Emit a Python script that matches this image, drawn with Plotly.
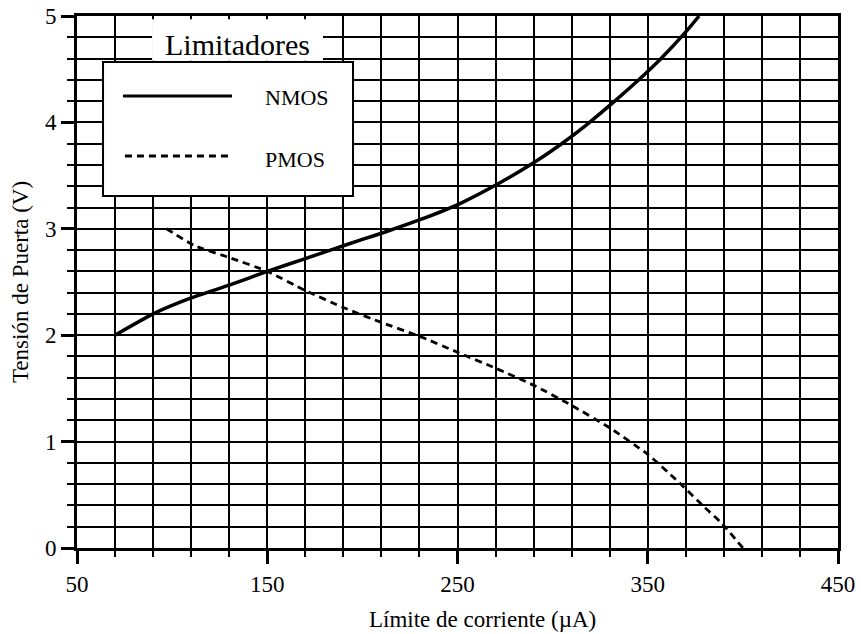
import plotly.graph_objects as go

# ---- data ----
nmos_x = [70, 90, 110, 130, 150, 170, 184, 200, 212, 231, 251, 273, 290, 304, 318, 332, 348, 357, 370, 377]
nmos_y = [2.0, 2.2, 2.35, 2.47, 2.6, 2.72, 2.805, 2.9, 2.97, 3.09, 3.235, 3.44, 3.62, 3.79, 3.98, 4.19, 4.445, 4.60, 4.85, 5.0]

pmos_x = [97, 112, 130, 150, 170, 190, 210, 230, 250, 270, 290, 310, 330, 350, 365, 380, 389, 400]
pmos_y = [3.0, 2.84, 2.73, 2.6, 2.42, 2.26, 2.12, 1.99, 1.84, 1.69, 1.53, 1.34, 1.13, 0.88, 0.64, 0.38, 0.23, 0.0]

x_ticks = [50, 150, 250, 350, 450]
y_ticks = [0, 1, 2, 3, 4, 5]

x_title = "Límite de corriente (µA)"
y_title = "Tensión de Puerta (V)"
legend_title = "Limitadores"
names = ["NMOS", "PMOS"]

FONT = "Liberation Serif, Times New Roman, serif"

fig = go.Figure()
fig.add_trace(go.Scatter(x=nmos_x, y=nmos_y, mode="lines", name=names[0],
                         line=dict(color="black", width=3.5, shape="spline", smoothing=0.5)))
fig.add_trace(go.Scatter(x=pmos_x, y=pmos_y, mode="lines", name=names[1],
                         line=dict(color="black", width=2.8, dash="7px,5px", shape="spline", smoothing=0.5)))

axis_common = dict(
    showline=True, linecolor="black", linewidth=3, mirror=True,
    showgrid=True, gridcolor="black", gridwidth=1.6,
    ticks="outside", ticklen=13, tickwidth=2.5, tickcolor="black",
    zeroline=False, automargin=False,
    tickfont=dict(family=FONT, size=23, color="black"),
)

fig.update_xaxes(range=[50, 450], tickvals=x_ticks, ticktext=[str(v) for v in x_ticks],
                 minor=dict(tick0=50, dtick=20, showgrid=True, gridcolor="black", gridwidth=1.6,
                            ticks="outside", ticklen=6, tickwidth=1.5, tickcolor="black"),
                 **axis_common)
fig.update_yaxes(range=[0, 5], tickvals=y_ticks, ticktext=[str(v) for v in y_ticks],
                 minor=dict(tick0=0, dtick=0.2, showgrid=True, gridcolor="black", gridwidth=1.6,
                            ticks="outside", ticklen=7, tickwidth=1.5, tickcolor="black"),
                 title=dict(text=y_title, font=dict(family=FONT, size=23, color="black"),
                            standoff=10),
                 **axis_common)

# ---- hand-drawn style legend (paper coordinates) ----
shapes = [
    dict(type="rect", xref="paper", yref="paper", x0=0.0342, x1=0.3627, y0=0.6617, y1=0.9135,
         fillcolor="white", line=dict(color="black", width=2), layer="above"),
    dict(type="rect", xref="paper", yref="paper", x0=0.0986, x1=0.3233, y0=0.9160, y1=0.994,
         fillcolor="white", line=dict(width=0), layer="above"),
    dict(type="line", xref="paper", yref="paper", x0=0.0604, x1=0.2037, y0=0.8496, y1=0.8496,
         line=dict(color="black", width=3), layer="above"),
    dict(type="line", xref="paper", yref="paper", x0=0.0630, x1=0.1990, y0=0.7368, y1=0.7368,
         line=dict(color="black", width=2.8, dash="7px,5px"), layer="above"),
]
annotations = [
    dict(text=legend_title, xref="paper", yref="paper", x=0.2109, y=0.946, xanchor="center", yanchor="middle",
         showarrow=False, font=dict(family=FONT, size=30, color="black")),
    dict(text=names[0], xref="paper", yref="paper", x=0.2444, y=0.8468, xanchor="left", yanchor="middle",
         showarrow=False, font=dict(family=FONT, size=22, color="black")),
    dict(text=names[1], xref="paper", yref="paper", x=0.2444, y=0.7297, xanchor="left", yanchor="middle",
         showarrow=False, font=dict(family=FONT, size=22, color="black")),
    dict(text=x_title, xref="paper", yref="paper", x=0.5335, y=-0.1335, xanchor="center", yanchor="middle",
         showarrow=False, font=dict(family=FONT, size=23, color="black")),
]

fig.update_layout(
    width=861, height=634,
    margin=dict(l=77, r=23, t=16, b=86),
    paper_bgcolor="white", plot_bgcolor="white",
    showlegend=False,
    shapes=shapes, annotations=annotations,
    font=dict(family=FONT, color="black"),
)

fig.write_html("out.html")
